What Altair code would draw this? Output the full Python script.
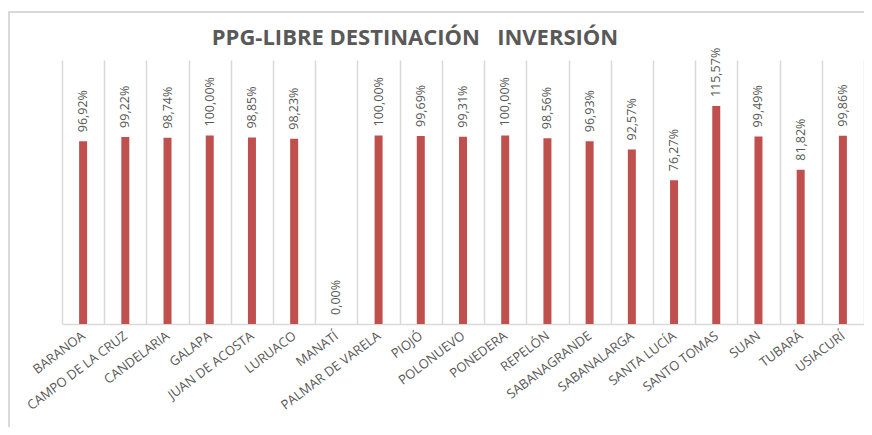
import altair as alt
import pandas as pd

categories = ["BARANOA", "CAMPO DE LA CRUZ", "CANDELARIA", "GALAPA", "JUAN DE ACOSTA",
              "LURUACO", "MANATÍ", "PALMAR DE VARELA", "PIOJÓ", "POLONUEVO", "PONEDERA",
              "REPELÓN", "SABANAGRANDE", "SABANALARGA", "SANTA LUCÍA", "SANTO TOMAS",
              "SUAN", "TUBARÁ", "USIACURÍ"]
values = [96.92, 99.22, 98.74, 100.00, 98.85, 98.23, 0.00, 100.00, 99.69, 99.31, 100.00,
          98.56, 96.93, 92.57, 76.27, 115.57, 99.49, 81.82, 99.86]
labels = [f"{v:.2f}".replace(".", ",") + "%" for v in values]
title_text = "PPG-LIBRE DESTINACIÓN\u00a0\u00a0\u00a0INVERSIÓN"

df = pd.DataFrame({"municipio": categories, "pct": [v / 100 for v in values], "label": labels})

W, H = 802, 264
FONT = "Open Sans"

x = alt.X("municipio:N", sort=categories, title=None,
          scale=alt.Scale(paddingInner=0, paddingOuter=0),
          axis=alt.Axis(labelAngle=-37, labelAlign="right", labelBaseline="middle",
                        labelPadding=10, labelFontSize=13, labelColor="#595959",
                        labelFont=FONT, ticks=False, domainColor="#d9d9d9", domainWidth=1.5,
                        grid=True, gridColor="#d9d9d9", gridWidth=1.5, tickBand="extent"))
y = alt.Y("pct:Q", scale=alt.Scale(domain=[0, 1.4], nice=False), axis=None)

base = alt.Chart(df)
bars = base.mark_bar(size=8, color="#C0504D").encode(x=x, y=y)
text = base.mark_text(angle=270, align="left", baseline="middle", dx=9, fontSize=12.5,
                      font=FONT, color="#595959").encode(x=x, y=y, text="label:N")

one = alt.Data(values=[{"t": title_text}])
border = alt.Chart(one).mark_rect(
    filled=False, stroke="#d9d9d9", strokeWidth=2
).encode(x=alt.value(-53), x2=alt.value(W + 40), y=alt.value(-48), y2=alt.value(H + 200))
title = alt.Chart(one).mark_text(
    font=FONT, fontSize=22, fontWeight="bold", color="#595959", align="center",
    baseline="alphabetic"
).encode(x=alt.value(353), y=alt.value(-15), text="t:N")

chart = alt.layer(border, title, bars, text).properties(
    width=W, height=H,
    padding={"left": 54, "top": 52, "right": 0, "bottom": 103},
    autosize=alt.AutoSizeParams(type="none"),
).configure_view(stroke=None)

chart.save("out.html", embed_options={"renderer": "svg", "actions": False})
